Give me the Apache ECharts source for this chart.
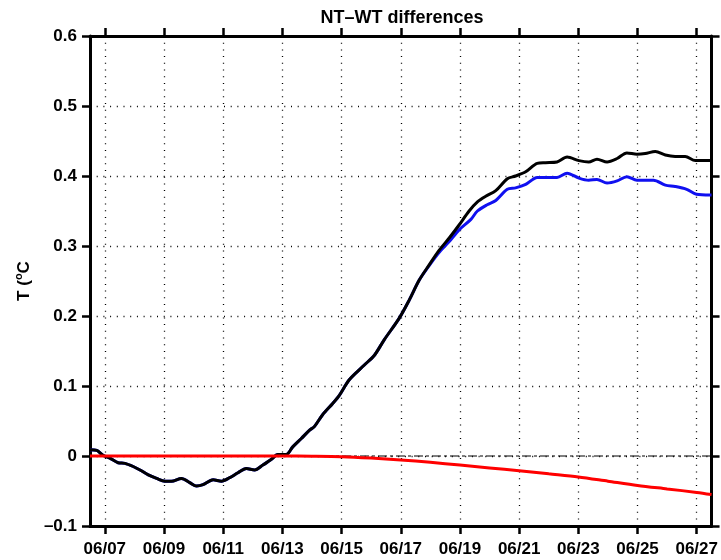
<!DOCTYPE html>
<html>
<head>
<meta charset="utf-8">
<script src="https://cdn.jsdelivr.net/npm/echarts@6/dist/echarts.min.js"></script>
<style>html,body{margin:0;padding:0;background:#fff}#c{width:721px;height:560px}</style>
</head>
<body>
<div id="c"></div>
<script>
// x = day of June (decimal)
const blackX = [6.5,6.73,6.94,7.17,7.45,7.68,7.96,8.19,8.47,8.75,9.03,9.25,9.59,9.87,10.10,10.32,10.66,10.94,11.22,11.50,11.78,12.06,12.34,12.62,12.85,13.13,13.35,13.64,13.92,14.08,14.36,14.70,14.93,15.26,15.77,16.11,16.44,16.95,17.29,17.62,17.96,18.30,18.63,18.97,19.31,19.59,19.87,20.21,20.60,20.88,21.22,21.61,21.89,22.28,22.62,23.02,23.35,23.63,23.97,24.31,24.64,24.98,25.26,25.60,25.94,26.27,26.61,26.95,27.46,27.5];
const blackY = [0.009,0.008,0.001,-0.003,-0.0096,-0.0105,-0.015,-0.020,-0.027,-0.032,-0.036,-0.036,-0.032,-0.038,-0.043,-0.041,-0.034,-0.036,-0.031,-0.024,-0.018,-0.020,-0.013,-0.005,0.002,0.002,0.013,0.025,0.037,0.042,0.059,0.075,0.087,0.109,0.130,0.144,0.166,0.197,0.223,0.251,0.273,0.294,0.311,0.330,0.350,0.363,0.371,0.379,0.396,0.400,0.406,0.418,0.419,0.420,0.427,0.422,0.420,0.424,0.420,0.425,0.433,0.431,0.432,0.435,0.430,0.428,0.428,0.422,0.422,0.421];

const blueX = [6.5,6.73,6.94,7.17,7.45,7.68,7.96,8.19,8.47,8.75,9.03,9.25,9.59,9.87,10.10,10.32,10.66,10.94,11.22,11.50,11.78,12.06,12.34,12.62,12.85,13.13,13.35,13.64,13.92,14.08,14.36,14.70,14.93,15.26,15.77,16.11,16.44,16.95,17.29,17.62,17.96,18.30,18.63,18.97,19.37,19.59,19.92,20.21,20.60,20.88,21.22,21.61,21.89,22.28,22.62,23.02,23.35,23.63,23.97,24.31,24.64,24.98,25.26,25.54,25.94,26.27,26.66,26.99,27.46,27.5];
const blueY = [0.009,0.008,0.001,-0.003,-0.0096,-0.0105,-0.015,-0.020,-0.027,-0.032,-0.036,-0.036,-0.032,-0.038,-0.043,-0.041,-0.034,-0.036,-0.031,-0.024,-0.018,-0.020,-0.013,-0.005,0.002,0.002,0.013,0.025,0.037,0.042,0.059,0.075,0.087,0.109,0.130,0.144,0.166,0.197,0.223,0.251,0.272,0.291,0.306,0.323,0.338,0.350,0.359,0.365,0.381,0.383,0.388,0.398,0.398,0.398,0.404,0.397,0.394,0.395,0.390,0.393,0.399,0.394,0.394,0.394,0.387,0.385,0.381,0.374,0.373,0.373];

const redX = [6.5,8,10,12,13,14,15,16,17,18,19,20,21,22,23,24,25,26,27,27.5];
const redY = [0,0,0,0,0,-0.0003,-0.001,-0.003,-0.0057,-0.009,-0.013,-0.017,-0.021,-0.0255,-0.030,-0.036,-0.042,-0.047,-0.052,-0.055];

const xTicks = [7,9,11,13,15,17,19,21,23,25,27];
const yMin = -0.1, yMax = 0.6, yStep = 0.1;
const titleText = 'NT\u2013WT differences';

const zip = (xs, ys) => xs.map((x, i) => [x, ys[i]]);
const FONT = 'Liberation Sans, Arial, Helvetica, sans-serif';
const pad = n => (n < 10 ? '0' : '') + n;

const axisLineStyle = { show: true, onZero: false, lineStyle: { color: '#000', width: 3 } };
const tickStyle = { show: true, inside: false, length: 8, lineStyle: { color: '#000', width: 2.5 } };
const gridDots = { show: true, lineStyle: { color: '#000', width: 1.3, type: [1, 5.7] } };

const chart = echarts.init(document.getElementById('c'), null, { renderer: 'canvas' });
chart.setOption({
  animation: false,
  backgroundColor: '#fff',
  title: {
    text: titleText, left: 397, textAlign: 'center', top: 4,
    textStyle: { fontFamily: FONT, fontWeight: 'bold', fontSize: 18, color: '#000' }
  },
  grid: { left: 90, right: 8, top: 36, bottom: 34, containLabel: false },
  xAxis: [
    {
      type: 'value', position: 'bottom', min: 6.5, max: 27.5,
      axisLine: axisLineStyle,
      axisTick: Object.assign({ customValues: xTicks }, tickStyle),
      axisLabel: {
        customValues: xTicks, margin: 15,
        formatter: v => '06/' + pad(Math.round(v)),
        fontFamily: FONT, fontWeight: 'bold', fontSize: 17, color: '#000'
      },
      splitLine: gridDots
    },
    {
      type: 'value', position: 'top', min: 6.5, max: 27.5,
      axisLine: axisLineStyle,
      axisTick: Object.assign({ customValues: xTicks }, tickStyle),
      axisLabel: { show: false, customValues: xTicks },
      splitLine: { show: false }
    }
  ],
  yAxis: [
    {
      type: 'value', position: 'left', min: yMin, max: yMax, interval: yStep,
      axisLine: axisLineStyle,
      axisTick: tickStyle,
      axisLabel: {
        margin: 13,
        formatter: v => Math.abs(v) < 1e-9 ? '0' : (v < 0 ? '\u2013' + Math.abs(v).toFixed(1) : v.toFixed(1)),
        fontFamily: FONT, fontWeight: 'bold', fontSize: 17, color: '#000'
      },
      splitLine: gridDots,
      name: '{a|T (}{sup|o}{a|C}',
      nameLocation: 'middle', nameRotate: 90, nameGap: 50,
      nameTextStyle: {
        fontFamily: FONT, fontWeight: 'bold', fontSize: 17, color: '#000',
        rich: {
          a: { fontFamily: FONT, fontWeight: 'bold', fontSize: 17, lineHeight: 22, color: '#000' },
          sup: { fontFamily: FONT, fontWeight: 'bold', fontSize: 11, lineHeight: 11, verticalAlign: 'top', color: '#000' }
        }
      }
    },
    {
      type: 'value', position: 'right', min: yMin, max: yMax, interval: yStep,
      axisLine: axisLineStyle,
      axisTick: tickStyle,
      axisLabel: { show: false },
      splitLine: { show: false }
    }
  ],
  series: [
    {
      name: 'zero', type: 'line', data: [[6.5, 0], [27.5, 0]], symbol: 'none', z: 1,
      lineStyle: { color: '#000', width: 1.2, type: [9, 3, 3, 3] }
    },
    {
      name: 'blue', type: 'line', data: zip(blueX, blueY), symbol: 'none', smooth: 0.3, z: 2,
      lineStyle: { color: '#1010f0', width: 3 }
    },
    {
      name: 'black', type: 'line', data: zip(blackX, blackY), symbol: 'none', smooth: 0.3, z: 3,
      lineStyle: { color: '#000', width: 3 }
    },
    {
      name: 'red', type: 'line', data: zip(redX, redY), symbol: 'none', smooth: 0.3, z: 4,
      lineStyle: { color: '#ff0000', width: 3 }
    }
  ]
});
</script>
</body>
</html>
